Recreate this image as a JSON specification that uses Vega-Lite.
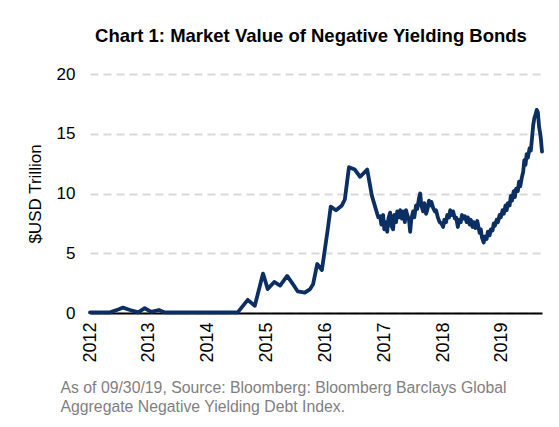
{
  "$schema": "https://vega.github.io/schema/vega-lite/v6.json",
  "width": 452,
  "height": 239,
  "autosize": {"type": "none"},
  "padding": {"left": 90, "top": 74, "right": 17, "bottom": 114},
  "background": "white",
  "title": {
    "text": "Chart 1: Market  Value of Negative Yielding Bonds",
    "font": "Liberation Sans",
    "fontSize": 18.5,
    "fontWeight": "bold",
    "color": "#000000",
    "anchor": "middle",
    "dx": -5,
    "offset": 20
  },
  "config": {
    "view": {"stroke": null},
    "font": "Liberation Sans"
  },
  "data": {
    "values": [
      {"year": 2012.00, "value": 0.05},
      {"year": 2012.34, "value": 0.05},
      {"year": 2012.48, "value": 0.3},
      {"year": 2012.56, "value": 0.45},
      {"year": 2012.68, "value": 0.25},
      {"year": 2012.82, "value": 0.05},
      {"year": 2012.93, "value": 0.4},
      {"year": 2013.04, "value": 0.1},
      {"year": 2013.17, "value": 0.25},
      {"year": 2013.27, "value": 0.05},
      {"year": 2014.51, "value": 0.05},
      {"year": 2014.68, "value": 1.1},
      {"year": 2014.80, "value": 0.6},
      {"year": 2014.94, "value": 3.3},
      {"year": 2015.02, "value": 2.0},
      {"year": 2015.13, "value": 2.6},
      {"year": 2015.23, "value": 2.3},
      {"year": 2015.35, "value": 3.1},
      {"year": 2015.45, "value": 2.4},
      {"year": 2015.53, "value": 1.8},
      {"year": 2015.65, "value": 1.7},
      {"year": 2015.74, "value": 2.0},
      {"year": 2015.79, "value": 2.4},
      {"year": 2015.86, "value": 4.1},
      {"year": 2015.94, "value": 3.6},
      {"year": 2016.04, "value": 7.0},
      {"year": 2016.09, "value": 8.9},
      {"year": 2016.18, "value": 8.6},
      {"year": 2016.28, "value": 9.0},
      {"year": 2016.33, "value": 9.5},
      {"year": 2016.40, "value": 12.2},
      {"year": 2016.50, "value": 12.0},
      {"year": 2016.59, "value": 11.4},
      {"year": 2016.71, "value": 12.0},
      {"year": 2016.79, "value": 9.8},
      {"year": 2016.88, "value": 8.3},
      {"year": 2016.90, "value": 8.0},
      {"year": 2016.93, "value": 8.1},
      {"year": 2016.95, "value": 7.4},
      {"year": 2016.98, "value": 8.2},
      {"year": 2017.00, "value": 7.0},
      {"year": 2017.02, "value": 7.6},
      {"year": 2017.05, "value": 6.8},
      {"year": 2017.07, "value": 7.9},
      {"year": 2017.10, "value": 8.4},
      {"year": 2017.12, "value": 7.3},
      {"year": 2017.15, "value": 7.0},
      {"year": 2017.17, "value": 8.2},
      {"year": 2017.20, "value": 7.6},
      {"year": 2017.22, "value": 8.5},
      {"year": 2017.25, "value": 8.0},
      {"year": 2017.27, "value": 8.6},
      {"year": 2017.30, "value": 7.9},
      {"year": 2017.32, "value": 8.5},
      {"year": 2017.35, "value": 7.6},
      {"year": 2017.37, "value": 8.6},
      {"year": 2017.39, "value": 8.2},
      {"year": 2017.42, "value": 7.8},
      {"year": 2017.44, "value": 6.8},
      {"year": 2017.46, "value": 7.9},
      {"year": 2017.49, "value": 8.5},
      {"year": 2017.51, "value": 8.0},
      {"year": 2017.54, "value": 9.0},
      {"year": 2017.56, "value": 8.7},
      {"year": 2017.59, "value": 9.6},
      {"year": 2017.61, "value": 10.0},
      {"year": 2017.63, "value": 9.0},
      {"year": 2017.66, "value": 8.5},
      {"year": 2017.68, "value": 9.2},
      {"year": 2017.71, "value": 8.3},
      {"year": 2017.73, "value": 8.6},
      {"year": 2017.76, "value": 9.4},
      {"year": 2017.78, "value": 9.0},
      {"year": 2017.80, "value": 9.3},
      {"year": 2017.83, "value": 8.8},
      {"year": 2017.86, "value": 8.5},
      {"year": 2017.88, "value": 8.6},
      {"year": 2017.91, "value": 8.0},
      {"year": 2017.94, "value": 7.6},
      {"year": 2017.97, "value": 7.5},
      {"year": 2018.00, "value": 7.2},
      {"year": 2018.02, "value": 7.8},
      {"year": 2018.05, "value": 7.6},
      {"year": 2018.07, "value": 8.2},
      {"year": 2018.10, "value": 8.0},
      {"year": 2018.12, "value": 8.6},
      {"year": 2018.15, "value": 8.2},
      {"year": 2018.17, "value": 8.5},
      {"year": 2018.20, "value": 7.9},
      {"year": 2018.22, "value": 8.0},
      {"year": 2018.25, "value": 7.2},
      {"year": 2018.27, "value": 7.8},
      {"year": 2018.30, "value": 7.6},
      {"year": 2018.32, "value": 8.2},
      {"year": 2018.35, "value": 7.9},
      {"year": 2018.37, "value": 8.1},
      {"year": 2018.40, "value": 7.6},
      {"year": 2018.42, "value": 8.0},
      {"year": 2018.45, "value": 7.4},
      {"year": 2018.47, "value": 7.8},
      {"year": 2018.50, "value": 7.2},
      {"year": 2018.52, "value": 7.6},
      {"year": 2018.55, "value": 7.1},
      {"year": 2018.58, "value": 7.7},
      {"year": 2018.60, "value": 7.2},
      {"year": 2018.62, "value": 6.7},
      {"year": 2018.64, "value": 7.0},
      {"year": 2018.66, "value": 6.3},
      {"year": 2018.69, "value": 5.9},
      {"year": 2018.71, "value": 6.4},
      {"year": 2018.74, "value": 6.2},
      {"year": 2018.76, "value": 6.8},
      {"year": 2018.79, "value": 6.5},
      {"year": 2018.81, "value": 7.0},
      {"year": 2018.84, "value": 6.9},
      {"year": 2018.86, "value": 7.5},
      {"year": 2018.88, "value": 7.3},
      {"year": 2018.91, "value": 7.8},
      {"year": 2018.93, "value": 7.6},
      {"year": 2018.96, "value": 8.2},
      {"year": 2018.98, "value": 8.0},
      {"year": 2019.01, "value": 8.6},
      {"year": 2019.03, "value": 8.3},
      {"year": 2019.06, "value": 9.0},
      {"year": 2019.08, "value": 8.6},
      {"year": 2019.10, "value": 9.2},
      {"year": 2019.13, "value": 9.0},
      {"year": 2019.15, "value": 9.8},
      {"year": 2019.17, "value": 9.4},
      {"year": 2019.20, "value": 10.2},
      {"year": 2019.22, "value": 9.7},
      {"year": 2019.24, "value": 10.4},
      {"year": 2019.27, "value": 10.2},
      {"year": 2019.29, "value": 11.0},
      {"year": 2019.31, "value": 10.6},
      {"year": 2019.34, "value": 11.4},
      {"year": 2019.36, "value": 11.8},
      {"year": 2019.38, "value": 12.8},
      {"year": 2019.40, "value": 12.4},
      {"year": 2019.42, "value": 13.3},
      {"year": 2019.44, "value": 13.0},
      {"year": 2019.47, "value": 13.8},
      {"year": 2019.49, "value": 13.6},
      {"year": 2019.51, "value": 14.6},
      {"year": 2019.53, "value": 15.7},
      {"year": 2019.55, "value": 16.3},
      {"year": 2019.57, "value": 16.6},
      {"year": 2019.59, "value": 17.0},
      {"year": 2019.61, "value": 16.8},
      {"year": 2019.63, "value": 15.6},
      {"year": 2019.65, "value": 15.0},
      {"year": 2019.66, "value": 14.6},
      {"year": 2019.68, "value": 13.5}
    ]
  },
  "mark": {"type": "line", "color": "#0c2f63", "strokeWidth": 3.8, "strokeJoin": "round", "strokeCap": "round"},
  "encoding": {
    "x": {
      "field": "year",
      "type": "quantitative",
      "scale": {"domain": [2012, 2019.68], "nice": false, "zero": false},
      "axis": {
        "values": [2012, 2013, 2014, 2015, 2016, 2017, 2018, 2019],
        "format": "d",
        "labelAngle": -90,
        "labelFontSize": 18,
        "labelColor": "#000000",
        "labelPadding": 9,
        "labelFlush": false,
        "ticks": false,
        "grid": false,
        "domainColor": "#000000",
        "domainWidth": 2,
        "title": ["As of 09/30/19,  Source: Bloomberg: Bloomberg Barclays Global", "Aggregate  Negative Yielding Debt Index."],
        "titleFontSize": 15.8,
        "titleFontWeight": "normal",
        "titleColor": "#7f7f7f",
        "titleAlign": "left",
        "titleAnchor": "start",
        "titleBaseline": "top",
        "titleLineHeight": 19,
        "titleX": -30,
        "titleY": 67
      }
    },
    "y": {
      "field": "value",
      "type": "quantitative",
      "scale": {"domain": [0, 20], "nice": false},
      "axis": {
        "values": [0, 5, 10, 15, 20],
        "labelFontSize": 17,
        "labelColor": "#000000",
        "labelPadding": 15,
        "ticks": false,
        "domain": false,
        "grid": true,
        "gridColor": "#d9d9d9",
        "gridWidth": 2,
        "gridDash": [8, 5],
        "title": "$USD Trillion",
        "titleFontSize": 17,
        "titleFontWeight": "normal",
        "titleColor": "#000000",
        "titlePadding": 12
      }
    }
  }
}
